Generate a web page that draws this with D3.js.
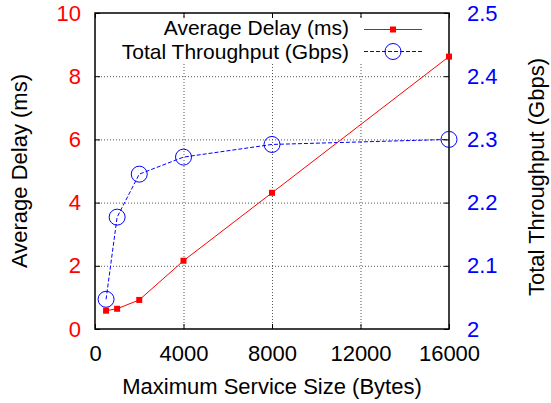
<!DOCTYPE html>
<html><head><meta charset="utf-8">
<script src="https://cdn.jsdelivr.net/npm/d3@7"></script>
<style>
body{margin:0;background:#fff;}
svg{display:block;font-family:"Liberation Sans",Arial,Helvetica,sans-serif;}
</style></head>
<body><svg id="c" width="551" height="403"></svg>
<script>
const sizes = [500, 1000, 2000, 4000, 8000, 16000];
const delayMs = [0.58, 0.64, 0.92, 2.16, 4.31, 8.62];
const throughputGbps = [2.047, 2.177, 2.245, 2.272, 2.292, 2.300];
const xTicks = [0, 4000, 8000, 12000, 16000];
const yLeftTicks = [0, 2, 4, 6, 8, 10];
const yRightTicks = [2, 2.1, 2.2, 2.3, 2.4, 2.5];
const legendLabels = ["Average Delay (ms)", "Total Throughput (Gbps)"];
const xTitle = "Maximum Service Size (Bytes)";
const yLeftTitle = "Average Delay (ms)";
const yRightTitle = "Total Throughput (Gbps)";

const L = 95, R = 449, T = 13, B = 329;
const FS = 22;
const svg = d3.select("#c");
const x = d3.scaleLinear().domain([0, 16000]).range([L, R]);
const yL = d3.scaleLinear().domain([0, 10]).range([B, T]);
const yR = d3.scaleLinear().domain([2, 2.5]).range([B, T]);

// grid
const gridY = svg.append("g").attr("transform", `translate(${L},0)`)
  .call(d3.axisLeft(yL).tickValues(yLeftTicks.filter(v => v > 0 && v < 10)).tickSize(-(R - L)).tickFormat(""));
const gridX = svg.append("g").attr("transform", `translate(0,${B})`)
  .call(d3.axisBottom(x).tickValues(xTicks.filter(v => v > 0 && v < 16000)).tickSize(-(B - T)).tickFormat(""));
[gridY, gridX].forEach(g => {
  g.select(".domain").remove();
  g.selectAll("line").attr("stroke", "#555").attr("stroke-width", 1).attr("stroke-dasharray", "1,2");
});

// legend background (opaque key)
svg.append("rect").attr("x", 100).attr("y", 17).attr("width", 345).attr("height", 45).attr("fill", "#fff");

// axes
const axL = svg.append("g").attr("transform", `translate(${L},0)`)
  .call(d3.axisLeft(yL).tickValues(yLeftTicks).tickSize(-5).tickPadding(14).tickFormat(d3.format("d")));
axL.selectAll("text").attr("fill", "#ff0000");
const axR = svg.append("g").attr("transform", `translate(${R},0)`)
  .call(d3.axisRight(yR).tickValues(yRightTicks).tickSize(-5).tickPadding(18).tickFormat(d => d3.format("")(d)));
axR.selectAll("text").attr("fill", "#0000ff");
const axB = svg.append("g").attr("transform", `translate(0,${B})`)
  .call(d3.axisBottom(x).tickValues(xTicks).tickSize(-5).tickPadding(16).tickFormat(d3.format("d")));
axB.selectAll("text").attr("fill", "#000");
const axT = svg.append("g").attr("transform", `translate(0,${T})`)
  .call(d3.axisTop(x).tickValues(xTicks).tickSize(-5).tickFormat(""));
[axL, axR, axB, axT].forEach(g => {
  g.select(".domain").remove();
  g.selectAll("line").attr("stroke", "#000").attr("stroke-width", 1);
  g.selectAll("text").attr("font-size", FS).attr("font-family", null);
});

svg.append("rect").attr("x", L).attr("y", T).attr("width", R - L).attr("height", B - T)
  .attr("fill", "none").attr("stroke", "#000").attr("stroke-width", 1.5);

// series
const pts = sizes.map((s, i) => ({s, d: delayMs[i], t: throughputGbps[i]}));
svg.append("path").datum(pts)
  .attr("d", d3.line().x(p => x(p.s)).y(p => yR(p.t)))
  .attr("fill", "none").attr("stroke", "#0000ff").attr("stroke-width", 1).attr("stroke-dasharray", "4,2");
svg.selectAll(".tc").data(pts).enter().append("circle")
  .attr("cx", p => x(p.s)).attr("cy", p => yR(p.t)).attr("r", 8)
  .attr("fill", "none").attr("stroke", "#0000ff").attr("stroke-width", 1);
svg.append("path").datum(pts)
  .attr("d", d3.line().x(p => x(p.s)).y(p => yL(p.d)))
  .attr("fill", "none").attr("stroke", "#ff0000").attr("stroke-width", 1);
svg.selectAll(".dm").data(pts).enter().append("rect")
  .attr("x", p => x(p.s) - 3).attr("y", p => yL(p.d) - 3).attr("width", 6).attr("height", 6)
  .attr("fill", "#ff0000");

// legend
const LFS = 21;
const lg = svg.append("g");
lg.append("text").attr("x", 349).attr("y", 35).attr("text-anchor", "end").attr("font-size", LFS).text(legendLabels[0]);
lg.append("text").attr("x", 349).attr("y", 59).attr("text-anchor", "end").attr("font-size", LFS).text(legendLabels[1]);
lg.append("line").attr("x1", 364).attr("x2", 422).attr("y1", 29.5).attr("y2", 29.5).attr("stroke", "#ff0000");
lg.append("rect").attr("x", 390).attr("y", 26.5).attr("width", 6).attr("height", 6).attr("fill", "#ff0000");
lg.append("line").attr("x1", 364).attr("x2", 422).attr("y1", 51.5).attr("y2", 51.5).attr("stroke", "#0000ff").attr("stroke-dasharray", "4,2");
lg.append("circle").attr("cx", 393).attr("cy", 51.5).attr("r", 8).attr("fill", "none").attr("stroke", "#0000ff");

// titles
svg.append("text").attr("x", (L + R) / 2).attr("y", 394).attr("text-anchor", "middle").attr("font-size", FS).text(xTitle);
svg.append("text").attr("transform", `translate(27,${(T + B) / 2}) rotate(-90)`).attr("text-anchor", "middle").attr("font-size", FS).text(yLeftTitle);
svg.append("text").attr("transform", `translate(544,${(T + B) / 2 + 6}) rotate(-90)`).attr("text-anchor", "middle").attr("font-size", FS).text(yRightTitle);
</script></body></html>
